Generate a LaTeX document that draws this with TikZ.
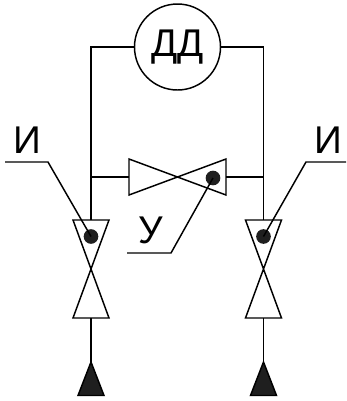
\documentclass[tikz,border=0pt]{standalone}
\usepackage{fontspec}
\setmainfont{Liberation Sans}
\tikzset{
    line/.style={line width=1.1pt},
    sensor/.style={draw,circle,line width=1.1pt,minimum size=64.5pt,inner sep=0pt,font=\fontsize{29}{29}\selectfont},
    tag/.style={inner sep=0pt,font=\fontsize{29}{29}\selectfont},
    dot/.style={circle,fill=black!88,minimum size=11pt,inner sep=0pt},
    pipeend/.style={draw,line width=1.1pt,fill=black!88,line join=miter},
    pics/vvalve/.style={code={
        \draw[line,line join=miter] (-18,-49) -- (18,-49) -- (-18,49) -- (18,49) -- cycle;
    }},
    pics/hvalve/.style={code={
        \draw[line,line join=miter] (-48.5,-18) -- (-48.5,18) -- (48.5,-18) -- (48.5,18) -- cycle;
    }},
}
\begin{document}
\begin{tikzpicture}[x=0.75pt,y=-0.75pt]
    \useasboundingbox (0,0) rectangle (347,401);

    \node[sensor] (dd) at (177.5,47) {ДД};
    \coordinate (tl) at (91,47);
    \coordinate (tr) at (263.5,47);
    \coordinate (jl) at (91,177);
    \coordinate (jr) at (263.5,177);

    % valves
    \pic at (177.5,177) {hvalve};
    \pic at (91,269) {vvalve};
    \pic at (263.5,269) {vvalve};
    \coordinate (hl) at (129,177);
    \coordinate (hr) at (226,177);
    \coordinate (vlt) at (91,220);
    \coordinate (vlb) at (91,318);
    \coordinate (vrt) at (263.5,220);
    \coordinate (vrb) at (263.5,318);

    % pipes
    \draw[line] (dd) -- (tl) -- (vlt);
    \draw[line] (dd) -- (tr) -- (vrt);
    \draw[line] (jl) -- (hl);
    \draw[line] (hr) -- (jr);

    % pipe ends
    \draw[pipeend] (78,395.5) -- (91,362) -- (104,395.5) -- cycle;
    \draw[pipeend] (250.5,395.5) -- (263.5,362) -- (276.5,395.5) -- cycle;
    \coordinate (el) at (91,362);
    \coordinate (er) at (263.5,362);
    \draw[line] (vlb) -- (el);
    \draw[line] (vrb) -- (er);

    % dots
    \node[dot] (dl) at (91,236.5) {};
    \node[dot] (dr) at (263.5,236.5) {};
    \node[dot] (dm) at (213,178) {};

    % labels
    \node[tag] (il) at (27,140) {И};
    \node[tag] (ir) at (328,140) {И};
    \node[tag] (um) at (151,230) {У};
    \coordinate (ila) at (5,162);
    \coordinate (ilb) at (48,162);
    \coordinate (ira) at (346,162);
    \coordinate (irb) at (306,162);
    \coordinate (uma) at (127,253);
    \coordinate (umb) at (171,253);
    \draw[line] (ila) -- (ilb) -- (dl.center);
    \draw[line] (ira) -- (irb) -- (dr.center);
    \draw[line] (uma) -- (umb) -- (dm.center);
\end{tikzpicture}
\end{document}
